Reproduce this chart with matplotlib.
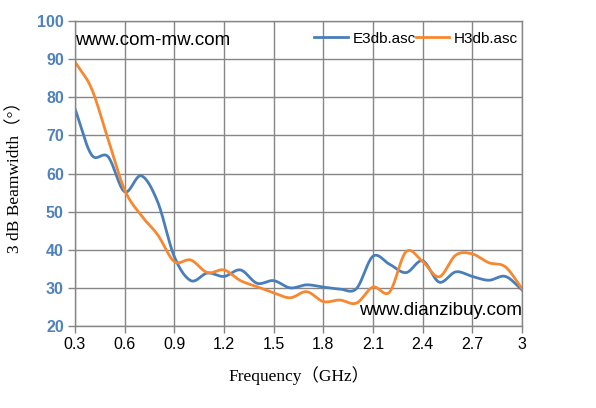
import numpy as np
import matplotlib
matplotlib.use("Agg")
import matplotlib.pyplot as plt

# frequency points (GHz) and the two beamwidth curves (degrees)
freq = [0.3, 0.4, 0.5, 0.6, 0.7, 0.8, 0.9, 1.0, 1.1, 1.2, 1.3, 1.4, 1.5, 1.6,
        1.7, 1.8, 1.9, 2.0, 2.1, 2.2, 2.3, 2.4, 2.5, 2.6, 2.7, 2.8, 2.9, 3.0]
e3db = [77.0, 64.9, 64.4, 55.2, 59.4, 52.5, 38.2, 31.9, 33.9, 33.0, 34.7, 31.2,
        31.9, 30.0, 30.8, 30.2, 29.7, 29.8, 38.3, 36.2, 34.0, 37.1, 31.5, 34.2,
        33.0, 32.0, 33.0, 29.5]
h3db = [89.3, 82.3, 69.0, 55.7, 49.0, 43.9, 36.9, 37.3, 34.0, 34.7, 31.9, 30.3,
        28.7, 27.4, 29.0, 26.4, 26.8, 26.0, 30.2, 28.9, 39.5, 36.9, 32.9, 38.6,
        38.9, 36.6, 35.5, 29.8]
x_ticks = [0.3, 0.6, 0.9, 1.2, 1.5, 1.8, 2.1, 2.4, 2.7, 3.0]
x_tick_labels = ["0.3", "0.6", "0.9", "1.2", "1.5", "1.8", "2.1", "2.4", "2.7", "3"]
y_ticks = [20, 30, 40, 50, 60, 70, 80, 90, 100]


def smooth(x, y, n=20):
    # Catmull-Rom spline through the points, like a spreadsheet "smoothed line"
    x = np.asarray(x, float)
    y = np.asarray(y, float)
    px = np.concatenate([[2 * x[0] - x[1]], x, [2 * x[-1] - x[-2]]])
    py = np.concatenate([[2 * y[0] - y[1]], y, [2 * y[-1] - y[-2]]])
    xs, ys = [], []
    t = np.linspace(0, 1, n, endpoint=False)
    for i in range(1, len(px) - 2):
        for p, out in ((px, xs), (py, ys)):
            p0, p1, p2, p3 = p[i - 1], p[i], p[i + 1], p[i + 2]
            out.append(0.5 * ((2 * p1) + (-p0 + p2) * t
                              + (2 * p0 - 5 * p1 + 4 * p2 - p3) * t ** 2
                              + (-p0 + 3 * p1 - 3 * p2 + p3) * t ** 3))
    xs = np.concatenate(xs + [[x[-1]]])
    ys = np.concatenate(ys + [[y[-1]]])
    return xs, ys


fig = plt.figure(figsize=(5.96, 4.08), dpi=100)
ax = fig.add_axes([0.1258, 0.201, 0.75, 0.7475])

blue = "#4A7EBB"
orange = "#F7882F"
ax.plot(*smooth(freq, e3db), color=blue, lw=2.0, label="E3db.asc")
ax.plot(*smooth(freq, h3db), color=orange, lw=2.0, label="H3db.asc")

ax.set_xlim(0.3, 3.0)
ax.set_ylim(20, 100)
ax.set_xticks(x_ticks)
ax.set_xticklabels(x_tick_labels, fontfamily="Liberation Sans", fontsize=11.5)
ax.set_yticks(y_ticks)
ax.set_yticklabels([str(v) for v in y_ticks], fontfamily="Liberation Sans",
                   fontsize=11.5, fontweight="bold", color="#4F81BD")
ax.grid(True, color="#868686", lw=1.0)
ax.set_axisbelow(True)
for s in ax.spines.values():
    s.set_color("#868686")
    s.set_linewidth(1.0)
ax.tick_params(axis="both", color="#868686", length=5, width=1, pad=3)

lab_font = ["Liberation Serif", "Noto Sans CJK SC"]
ax.set_xlabel("Frequency\uff08GHz\uff09", family=lab_font, fontsize=12.5, labelpad=10)
ax.set_ylabel("3 dB Beamwidth\uff08\u00b0\uff09", family=lab_font, fontsize=12.5,
              labelpad=10)

ax.text(0.0, 0.935, "www.com-mw.com", transform=ax.transAxes, ha="left", va="center",
        fontfamily="Liberation Sans", fontsize=13.5)
ax.text(1.0, 0.05, "www.dianzibuy.com", transform=ax.transAxes, ha="right", va="center",
        fontfamily="Liberation Sans", fontsize=13.5)

ax.legend(loc="upper right", ncol=2, frameon=False,
          prop={"family": "Liberation Sans", "size": 11},
          handlelength=2.2, handletextpad=0.3, columnspacing=0.0,
          borderaxespad=0.3, bbox_to_anchor=(1.015, 1.0))

fig.savefig("out.png", dpi=100)
